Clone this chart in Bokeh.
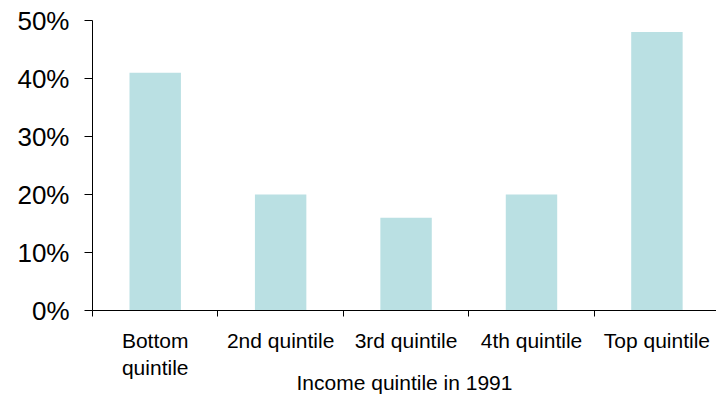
from bokeh.plotting import figure
from bokeh.models import Range1d, FixedTicker, ColumnDataSource
from bokeh.embed import file_html
from bokeh.resources import INLINE

# Share of people in each 1991 income quintile (percent)
categories = ["Bottom\nquintile", "2nd quintile", "3rd quintile", "4th quintile", "Top quintile"]
values = [41, 20, 16, 20, 48]
y_ticks = [0, 10, 20, 30, 40, 50]
x_title = "Income quintile in 1991"

centers = [i + 0.5 for i in range(len(categories))]
boundaries = list(range(len(categories) + 1))

source = ColumnDataSource(data=dict(x=centers, top=values, name=categories))

p = figure(
    width=716, height=397,
    output_backend="svg", toolbar_location=None,
    x_range=Range1d(0, 4.975), y_range=Range1d(0, 50),
    min_border_left=92, min_border_right=0, min_border_top=20, min_border_bottom=87,
)
p.outline_line_color = None
p.xgrid.grid_line_color = None
p.ygrid.grid_line_color = None
p.background_fill_color = "white"
p.border_fill_color = "white"

p.vbar(x="x", top="top", bottom=0, width=0.41, source=source,
       fill_color="#BAE0E3", line_color=None)

font = "Liberation Sans"

# y axis: percent labels with outward ticks
p.yaxis.ticker = FixedTicker(ticks=y_ticks)
p.yaxis.major_label_overrides = {t: f"{t}%" for t in y_ticks}
p.yaxis.minor_tick_line_color = None
p.yaxis.major_tick_out = 8
p.yaxis.major_tick_in = 0
p.yaxis.major_label_standoff = 15
p.yaxis.major_label_text_font = font
p.yaxis.major_label_text_font_size = "26px"
p.yaxis.major_label_text_color = "black"
p.yaxis.axis_line_color = "black"
p.yaxis.major_tick_line_color = "black"

# x axis: names at category centres, tick marks between categories
p.xaxis.ticker = FixedTicker(ticks=centers, minor_ticks=boundaries)
p.xaxis.major_label_overrides = {c: n for c, n in zip(centers, categories)}
p.xaxis.major_tick_out = 0
p.xaxis.major_tick_in = 0
p.xaxis.minor_tick_out = 6
p.xaxis.minor_tick_in = 0
p.xaxis.minor_tick_line_color = "black"
p.xaxis.axis_line_color = "black"
p.xaxis.major_label_standoff = 12
p.xaxis.major_label_text_font = font
p.xaxis.major_label_text_font_size = "21px"
p.xaxis.major_label_text_line_height = 1.2
p.xaxis.major_label_text_color = "black"
p.xaxis.major_label_text_align = "center"
p.xaxis.major_label_orientation = "horizontal"
p.xaxis.axis_label = x_title
p.xaxis.axis_label_text_font = font
p.xaxis.axis_label_text_font_size = "21px"
p.xaxis.axis_label_text_font_style = "normal"
p.xaxis.axis_label_text_color = "black"
p.xaxis.axis_label_standoff = -11

open("out.html", "w").write(file_html(p, INLINE))
